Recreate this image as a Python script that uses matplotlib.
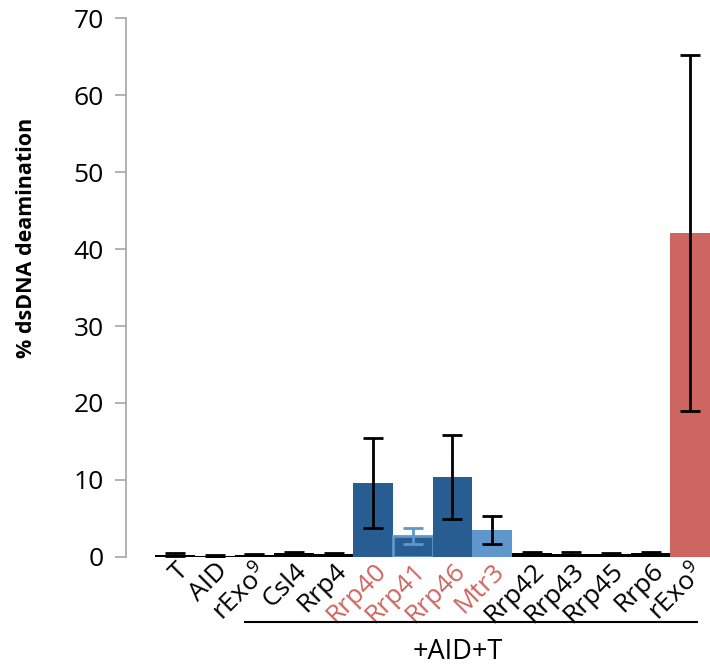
import matplotlib
matplotlib.use("Agg")
import matplotlib.pyplot as plt
import numpy as np

plt.rcParams["font.family"] = ["Open Sans", "DejaVu Sans"]
plt.rcParams["mathtext.fontset"] = "custom"
plt.rcParams["mathtext.rm"] = "Open Sans"

# ----- data ---------------------------------------------------------------
labels = ["T", "AID", r"rExo$^\mathrm{9}$", "Csl4", "Rrp4", "Rrp40", "Rrp41", "Rrp46",
          "Mtr3", "Rrp42", "Rrp43", "Rrp45", "Rrp6", r"rExo$^\mathrm{9}$"]
values = [0.3, 0.15, 0.3, 0.5, 0.4, 9.6, 2.75, 10.4, 3.5, 0.5, 0.4, 0.4, 0.5, 42.1]
errors = [0.2, 0.1, 0.1, 0.2, 0.1, 5.8, 1.05, 5.5, 1.8, 0.2, 0.2, 0.1, 0.2, 23.1]

BLACK = "#000000"
DARK_BLUE = "#285d91"
LIGHT_BLUE = "#5f97cc"
RED = "#cd6661"

fill_colors = [BLACK] * 5 + [DARK_BLUE, DARK_BLUE, DARK_BLUE, LIGHT_BLUE] + [BLACK] * 4 + [RED]
edge_colors = list(fill_colors)
edge_colors[6] = LIGHT_BLUE
err_colors = [BLACK] * 14
err_colors[6] = LIGHT_BLUE
label_colors = [BLACK] * 5 + [RED] * 4 + [BLACK] * 5

# ----- plot ---------------------------------------------------------------
fig = plt.figure(figsize=(7.1, 6.71), dpi=100)
ax = fig.add_axes([0.1775, 0.17, 0.8225, 0.803])

x = np.arange(len(labels))
ax.bar(x, values, width=1.0, color=fill_colors, edgecolor=edge_colors,
       linewidth=[2 if i == 6 else 0 for i in x], zorder=2)
for xi, v, e, c in zip(x, values, errors, err_colors):
    ax.errorbar(xi, v, yerr=e, fmt="none", ecolor=c, elinewidth=2,
                capsize=7, capthick=2, zorder=3)

ax.set_xlim(-1.24, 13.5)
ax.set_ylim(0, 70)
ax.set_yticks(range(0, 71, 10))
ax.tick_params(axis="y", labelsize=19, length=8, color="#a6a6a6", width=1.2, pad=8)
ax.tick_params(axis="x", length=0, pad=1)

ax.set_xticks(x)
ax.set_xticklabels(labels, rotation=45, ha="right", va="top",
                   rotation_mode="anchor", fontsize=19)
for tl, c in zip(ax.get_xticklabels(), label_colors):
    tl.set_color(c)

for side in ("top", "right", "bottom"):
    ax.spines[side].set_visible(False)
ax.spines["left"].set_color("#a6a6a6")
ax.spines["left"].set_linewidth(1.2)

fig.text(27 / 710, 1 - 238 / 671, "% dsDNA deamination", rotation=90,
         ha="center", va="center", fontsize=15.5, fontweight="bold")

# bracket for the +AID+T group
fig.add_artist(plt.Line2D([245 / 710, 697 / 710], [1 - 622 / 671, 1 - 622 / 671],
                          color="black", lw=1.5))
fig.text(458 / 710, 1 - 652 / 671, "+AID+T", ha="center", va="center", fontsize=19.5)

fig.savefig("out.png", dpi=100)
